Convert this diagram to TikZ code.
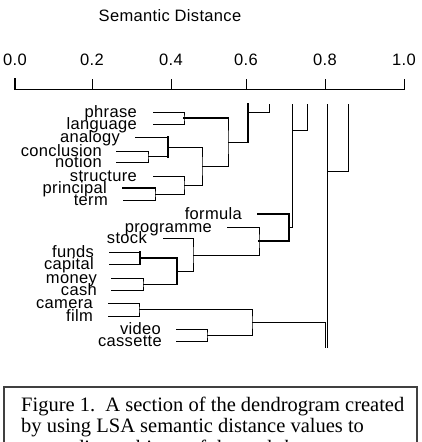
\documentclass[tikz,border=0pt]{standalone}
\usepackage{fontspec}
\setmainfont{Liberation Serif}
\newfontfamily\dfont[LetterSpace=2]{Liberation Sans}
\begin{document}
\begin{tikzpicture}[x=1pt,y=-1pt,
  lbl/.style={font={\dfont\fontsize{16.5}{18}\selectfont}, anchor=base east, inner sep=0pt},
  axlbl/.style={font={\dfont\fontsize{16.5}{18}\selectfont}, anchor=base, inner sep=0pt},
  captxt/.style={font={\fontsize{20.5}{22}\selectfont}, anchor=base west, inner sep=0pt},
  br/.style={line width=1pt, line cap=rect},
  brk/.style={line width=2pt, line cap=rect}]
\fill[white] (0,0) rectangle (422,442);
\useasboundingbox (0,0) rectangle (422,442);

% title and axis
\node[axlbl] (title) at (170,21) {Semantic Distance};
\coordinate (axL) at (15,89);
\coordinate (axR) at (404,89);
\draw[br] (axL) -- (axR);
\foreach \x/\v/\n in {15/0.0/0,92/0.2/1,171/0.4/2,246/0.6/3,325/0.8/4,404/1.0/5}{
  \coordinate (tb\n) at (\x,89);
  \coordinate (tt\n) at (\x,79);
  \node[axlbl] (tl\n) at (\x,65) {\v};
  \draw[br] (tb\n) -- (tt\n);
}
\draw[brk] (tb0) -- (tt0);

% leaf labels
\node[lbl] (Lphrase) at (137,117) {phrase};
\node[lbl] (Llanguage) at (137,129) {language};
\node[lbl] (Lanalogy) at (120,142) {analogy};
\node[lbl] (Lconclusion) at (102,156) {conclusion};
\node[lbl] (Lnotion) at (102,167) {notion};
\node[lbl] (Lstructure) at (137,181) {structure};
\node[lbl] (Lprincipal) at (107,193) {principal};
\node[lbl] (Lterm) at (108,205) {term};
\node[lbl] (Lformula) at (242,219) {formula};
\node[lbl] (Lprogramme) at (212,232) {programme};
\node[lbl] (Lstock) at (147,243) {stock};
\node[lbl] (Lfunds) at (94,257) {funds};
\node[lbl] (Lcapital) at (94,269) {capital};
\node[lbl] (Lmoney) at (97,283) {money};
\node[lbl] (Lcash) at (97,295) {cash};
\node[lbl] (Lcamera) at (93,308) {camera};
\node[lbl] (Lfilm) at (93,321) {film};
\node[lbl] (Lvideo) at (161,334) {video};
\node[lbl] (Lcassette) at (162,346) {cassette};

% leaf line starts
\coordinate (phrase) at (153,112);
\coordinate (language) at (153,124);
\coordinate (analogy) at (135,137);
\coordinate (conclusion) at (116,151);
\coordinate (notion) at (116,162);
\coordinate (structure) at (153,176);
\coordinate (principal) at (123,188);
\coordinate (term) at (123,200);
\coordinate (formula) at (258,214);
\coordinate (programme) at (227,227);
\coordinate (stock) at (163,238);
\coordinate (funds) at (109,252);
\coordinate (capital) at (109,264);
\coordinate (money) at (111,278);
\coordinate (cash) at (111,290);
\coordinate (camera) at (108,303);
\coordinate (film) at (108,316);
\coordinate (video) at (176,329);
\coordinate (cassette) at (176,341);

% merge points
\coordinate (mpl) at (184,118);
\coordinate (mcn) at (148,156.5);
\coordinate (macn) at (168,147);
\coordinate (mpt) at (155,194);
\coordinate (mspt) at (184,185);
\coordinate (mas) at (202,166);
\coordinate (mtop1) at (228,142);
\coordinate (mtop2) at (248,112);
\coordinate (mcap) at (140,258);
\coordinate (mmc) at (143,284);
\coordinate (mfm) at (177,271);
\coordinate (msf) at (193,255);
\coordinate (mpsf) at (259,241);
\coordinate (mfp) at (289,227);
\coordinate (mcd) at (292,130);
\coordinate (mcf) at (139,309.5);
\coordinate (mvc) at (207,335);
\coordinate (mcfvc) at (252,322.5);
\coordinate (mef) at (327,171);

% cut-off ends
\coordinate (cutA) at (248,104);
\coordinate (cutB) at (269,104);
\coordinate (cutC) at (292,104);
\coordinate (cutD) at (307,104);
\coordinate (cutE) at (327,104);
\coordinate (cutF) at (348,104);
\coordinate (cutG) at (325,347);
\coordinate (cutH) at (327,347);

% upper cluster
\draw[br] (phrase) -| (mpl) |- (language);
\draw[br] (conclusion) -| (mcn) |- (notion);
\draw[br] (analogy) -| (macn) |- (mcn);
\draw[brk] (macn |- analogy) -- (macn |- mcn);
\draw[br] (principal) -| (mpt) |- (term);
\draw[brk] (principal) -- (principal -| mpt);
\draw[br] (structure) -| (mspt) |- (mpt);
\draw[br] (macn) -| (mas) |- (mspt);
\draw[br] (mpl) -| (mtop1) |- (mas);
\draw[brk] (mpl) -- (mpl -| mtop1);
\draw[br] (mtop1) -- (mtop1 -| cutA);
\draw[brk] (mtop1 -| cutA) -- (cutA);
\draw[br] (mtop2) -| (cutB);

% middle cluster
\draw[br] (funds) -| (mcap) |- (capital);
\draw[brk] (mcap |- funds) -- (mcap |- capital);
\draw[br] (money) -| (mmc) |- (cash);
\draw[brk] (mcap) -| (mfm);
\draw[brk] (mfm) -- (mfm |- mmc);
\draw[br] (mfm |- mmc) -- (mmc);
\draw[br] (stock) -| (msf) |- (mfm);
\draw[br] (programme) -| (mpsf) |- (msf);
\draw[brk] (formula) -| (mfp) |- (mpsf);
\draw[br] (mfp) -| (cutC);
\draw[br] (mcd) -| (cutD);

% lower cluster
\draw[br] (camera) -| (mcf) |- (film);
\draw[br] (video) -| (mvc) |- (cassette);
\draw[br] (mcf) -| (mcfvc) |- (mvc);
\draw[br] (mcfvc) -| (cutG);
\draw[br] (cutE) -- (cutH);
\draw[br] (mef) -| (cutF);

% caption
\coordinate (boxA) at (4,387);
\coordinate (boxB) at (417,470);
\draw[line width=1.6pt, black!75] (boxA) rectangle (boxB);
\node[captxt] (cap1) at (21,411) {Figure 1.\ \ A section of the dendrogram created};
\node[captxt] (cap2) at (21,432) {by using LSA semantic distance values to};
\node[captxt] (cap3) at (21,454) {group direct objects of the verb \textit{borrow}.};
\end{tikzpicture}
\end{document}
